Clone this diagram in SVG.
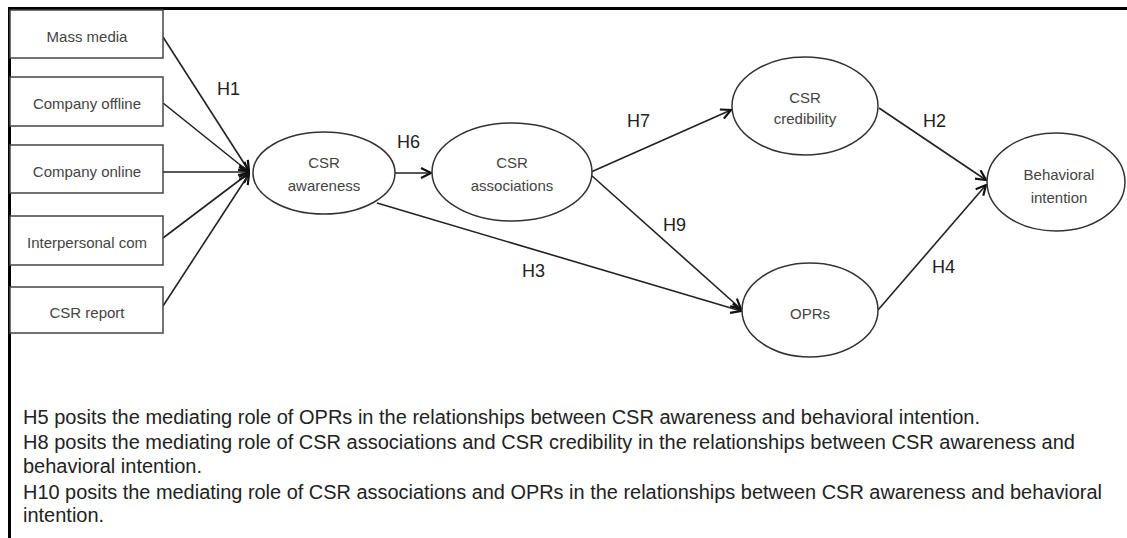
<svg xmlns="http://www.w3.org/2000/svg" width="1127" height="538" viewBox="0 0 1127 538">
<style>
.box{fill:#fff;stroke:#444;stroke-width:1.5}
.ell{fill:#fff;stroke:#333;stroke-width:1.5}
.nt{font-family:"Liberation Sans",Arial,sans-serif;font-size:15px;fill:#444;text-anchor:middle}
.lbl{font-family:"Liberation Sans",Arial,sans-serif;font-size:18px;fill:#222}
.body{font-family:"Liberation Sans",Arial,sans-serif;font-size:20px;fill:#222}
.edge{stroke:#222;stroke-width:1.6;fill:none;marker-end:url(#arr)}
</style>
<defs>
<marker id="arr" viewBox="0 0 12 12" refX="11" refY="6" markerWidth="12" markerHeight="12" markerUnits="userSpaceOnUse" orient="auto">
<path d="M1,1 L11,6 L1,11" fill="none" stroke="#111" stroke-width="2.2"/>
</marker>
</defs>
<rect width="1127" height="538" fill="#fff"/>
<path d="M9.5,538 V8.5 H1127" fill="none" stroke="#000" stroke-width="3"/>

<g id="edges">
<line class="edge" x1="163" y1="37" x2="249" y2="171"/>
<line class="edge" x1="163" y1="103" x2="249" y2="172"/>
<line class="edge" x1="163" y1="172" x2="249" y2="172"/>
<line class="edge" x1="163" y1="238" x2="249" y2="173"/>
<line class="edge" x1="163" y1="306" x2="249" y2="174"/>
<line class="edge" x1="395" y1="173" x2="431" y2="173"/>
<line class="edge" x1="591" y1="172" x2="731" y2="110"/>
<line class="edge" x1="591" y1="175" x2="741" y2="309"/>
<line class="edge" x1="377" y1="203" x2="741" y2="311"/>
<line class="edge" x1="879" y1="108" x2="986" y2="180"/>
<line class="edge" x1="878" y1="310" x2="986" y2="185"/>
</g>

<g id="n-mass-media"><rect class="box" x="10" y="10" width="153" height="48"/><text class="nt" x="87" y="42">Mass media</text></g>
<g id="n-company-offline"><rect class="box" x="10" y="77" width="153" height="49"/><text class="nt" x="87" y="109">Company offline</text></g>
<g id="n-company-online"><rect class="box" x="10" y="145" width="153" height="48"/><text class="nt" x="87" y="177">Company online</text></g>
<g id="n-interpersonal"><rect class="box" x="10" y="216" width="153" height="49"/><text class="nt" x="87" y="248">Interpersonal com</text></g>
<g id="n-csr-report"><rect class="box" x="10" y="287" width="153" height="46"/><text class="nt" x="87" y="318">CSR report</text></g>

<g id="n-awareness"><ellipse class="ell" cx="324" cy="173" rx="71" ry="41"/><text class="nt" x="324" y="168">CSR</text><text class="nt" x="324" y="191">awareness</text></g>
<g id="n-associations"><ellipse class="ell" cx="512" cy="172" rx="80" ry="49"/><text class="nt" x="512" y="168">CSR</text><text class="nt" x="512" y="191">associations</text></g>
<g id="n-credibility"><ellipse class="ell" cx="805" cy="106" rx="73" ry="49"/><text class="nt" x="805" y="103">CSR</text><text class="nt" x="805" y="124">credibility</text></g>
<g id="n-behavioral"><ellipse class="ell" cx="1056" cy="182" rx="69" ry="49"/><text class="nt" x="1059" y="180">Behavioral</text><text class="nt" x="1059" y="203">intention</text></g>
<g id="n-oprs"><ellipse class="ell" cx="810" cy="310" rx="68" ry="47"/><text class="nt" x="810" y="319">OPRs</text></g>

<g id="labels">
<text class="lbl" x="217" y="95">H1</text>
<text class="lbl" x="397" y="148">H6</text>
<text class="lbl" x="627" y="127">H7</text>
<text class="lbl" x="923" y="127">H2</text>
<text class="lbl" x="663" y="231">H9</text>
<text class="lbl" x="522" y="277">H3</text>
<text class="lbl" x="932" y="273">H4</text>
</g>

<g id="notes">
<text class="body" x="23" y="424" textLength="957" lengthAdjust="spacingAndGlyphs">H5 posits the mediating role of OPRs in the relationships between CSR awareness and behavioral intention.</text>
<text class="body" x="23" y="449" textLength="1052" lengthAdjust="spacingAndGlyphs">H8 posits the mediating role of CSR associations and CSR credibility in the relationships between CSR awareness and</text>
<text class="body" x="23" y="473">behavioral intention.</text>
<text class="body" x="23" y="499" textLength="1079" lengthAdjust="spacingAndGlyphs">H10 posits the mediating role of CSR associations and OPRs in the relationships between CSR awareness and behavioral</text>
<text class="body" x="23" y="522">intention.</text>
</g>
</svg>
